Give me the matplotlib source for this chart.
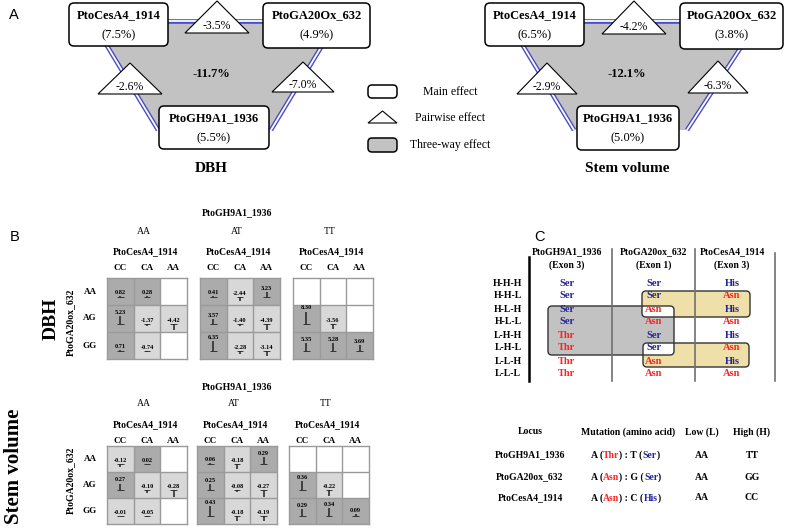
import matplotlib.pyplot as plt
import numpy as np
from matplotlib.patches import FancyBboxPatch, Polygon
from matplotlib.colors import ListedColormap

plt.rcParams['font.family'] = ['Liberation Serif', 'DejaVu Serif']

W, H = 788, 528

# ---------------- data ----------------
# panel A: effects (%) for each trait
genes_a = ['PtoCesA4_1914', 'PtoGA20Ox_632', 'PtoGH9A1_1936']
main_dbh = [7.5, 4.9, 5.5]
main_sv = [6.5, 3.8, 5.0]
# pairwise: CesA4xGA20Ox (top), CesA4xGH9A1 (left), GA20OxxGH9A1 (right)
pair_dbh = [-3.5, -2.6, -7.0]
pair_sv = [-4.2, -2.9, -6.3]
three_dbh = -11.7
three_sv = -12.1
legend_labels = ['Main effect', 'Pairwise effect', 'Three-way effect']

# panel B: genotype combination effects (rows PtoGA20ox_632, cols PtoCesA4_1914)
gh9_geno = ['AA', 'AT', 'TT']
cesa_geno = ['CC', 'CA', 'AA']
ga20_geno = ['AA', 'AG', 'GG']
nan = np.nan
dbh_vals = [
    [[0.82, 0.28, nan], [5.23, -1.37, -4.42], [0.71, -0.74, nan]],
    [[0.41, -2.44, 3.23], [3.57, -1.40, -4.39], [6.35, -2.28, -3.14]],
    [[nan, nan, nan], [8.30, -3.56, nan], [5.35, 5.28, 3.69]],
]
sv_vals = [
    [[-0.12, 0.02, nan], [0.27, -0.10, -0.28], [-0.01, -0.05, nan]],
    [[0.06, -0.18, 0.29], [0.25, -0.08, -0.27], [0.43, -0.18, -0.19]],
    [[nan, nan, nan], [0.36, -0.22, nan], [0.29, 0.34, 0.09]],
]

# panel C: haplotypes and amino acids
haplotypes = ['H-H-H', 'H-H-L', 'H-L-H', 'H-L-L', 'L-H-H', 'L-H-L', 'L-L-H', 'L-L-L']
loci = ['PtoGH9A1_1936', 'PtoGA20ox_632', 'PtoCesA4_1914']
exons = ['(Exon 3)', '(Exon 1)', '(Exon 3)']
aa_high = ['Ser', 'Ser', 'His']
aa_low = ['Thr', 'Asn', 'Asn']
base_low = ['A', 'A', 'A']
base_high = ['T', 'G', 'C']
geno_low = ['AA', 'AA', 'AA']
geno_high = ['TT', 'GG', 'CC']

BLUE = '#23239a'
RED = '#ff2222'
GRAY = '#c2c2c2'
TAN = '#efe0a9'
LINEBLUE = '#4a4ac8'

fig = plt.figure(figsize=(7.88, 5.28), dpi=100)
ax = fig.add_axes([0, 0, 1, 1])
ax.set_xlim(0, W)
ax.set_ylim(H, 0)
ax.axis('off')

sans = ['Liberation Sans', 'DejaVu Sans']
ax.text(14, 15, 'A', fontsize=10.5, family=sans, ha='center', va='center')
ax.text(15, 237, 'B', fontsize=10.5, family=sans, ha='center', va='center')
ax.text(540, 237, 'C', fontsize=10.5, family=sans, ha='center', va='center')


def rbox(x0, y0, x1, y1, fc='white', ec='black', lw=1.1, r=5, z=4):
    p = FancyBboxPatch((x0, y0), x1 - x0, y1 - y0,
                       boxstyle=f'round,pad=0,rounding_size={r}',
                       fc=fc, ec=ec, lw=lw, zorder=z)
    ax.add_patch(p)


def tri(cx, apex_y, base_y, hw, label):
    ax.add_patch(Polygon([(cx, apex_y), (cx - hw, base_y), (cx + hw, base_y)],
                         closed=True, fc='white', ec='black', lw=0.8, zorder=5))
    ax.text(cx, base_y - 7, label, ha='center', va='center', fontsize=8.5, zorder=6)


def effect_diagram(boxes, quad, tris, mains, pairs, three, title, tx):
    # gray three-way area with double blue edges
    ax.add_patch(Polygon(quad, closed=True, fc=GRAY, ec='none', zorder=1))
    for a, b in [(0, 1), (1, 2), (3, 0)]:
        xs = [quad[a][0], quad[b][0]]
        ys = [quad[a][1], quad[b][1]]
        ax.plot(xs, ys, color=LINEBLUE, lw=3.3, zorder=2, solid_capstyle='butt')
        ax.plot(xs, ys, color='white', lw=1.3, zorder=3, solid_capstyle='butt')
    for (x0, y0, x1, y1), g, m in zip(boxes, genes_a, mains):
        rbox(x0, y0, x1, y1)
        ax.text((x0 + x1) / 2, y0 + 12, g, ha='center', va='center',
                fontsize=9, fontweight='bold', zorder=6)
        ax.text((x0 + x1) / 2, y0 + 32, f'({m:.1f}%)', ha='center', va='center',
                fontsize=9, zorder=6)
    for (cx, ay, by, hw), p in zip(tris, pairs):
        tri(cx, ay, by, hw, f'{p:.1f}%')
    ax.text(tx, 74, f'{three:.1f}%', ha='center', va='center', fontsize=9,
            fontweight='bold', zorder=6)
    ax.text(tx, 169, title, ha='center', va='center', fontsize=11,
            fontweight='bold')


effect_diagram(
    boxes=[(69, 3, 168, 46), (263, 3, 370, 48), (159, 106, 269, 149)],
    quad=[(92, 21), (337, 21), (271, 130), (158, 130)],
    tris=[(217, 1, 33, 32), (130, 63, 94, 32), (303, 62, 92, 31)],
    mains=main_dbh, pairs=pair_dbh, three=three_dbh, title='DBH', tx=211)

effect_diagram(
    boxes=[(485, 3, 584, 46), (680, 3, 783, 49), (577, 106, 679, 150)],
    quad=[(508, 21), (758, 21), (687, 130), (574, 130)],
    tris=[(634, 1, 34, 32), (547, 63, 94, 30), (718, 61, 93, 30)],
    mains=main_sv, pairs=pair_sv, three=three_sv, title='Stem volume', tx=627)

# legend of panel A
rbox(368, 85, 397, 98, r=4)
ax.add_patch(Polygon([(382.5, 111), (368, 123), (397, 123)], closed=True,
                     fc='white', ec='black', lw=0.8, zorder=5))
rbox(368, 138, 397, 152, fc=GRAY, r=4)
for y, lab in zip([92, 118, 145], legend_labels):
    ax.text(450, y, lab, ha='center', va='center', fontsize=8.5)


# ---------------- panel B ----------------
def draw_grid(x0, y0, x1, y1, vals, k):
    axh = fig.add_axes([x0 / W, 1 - y1 / H, (x1 - x0) / W, (y1 - y0) / H])
    v = np.array(vals, dtype=float)
    sign = np.ma.masked_invalid(np.where(np.isnan(v), np.nan, (v > 0).astype(float)))
    cmap = ListedColormap(['#d8d8d8', '#ababab'])
    cmap.set_bad('white')
    axh.pcolormesh(sign, cmap=cmap, vmin=0, vmax=1)
    axh.set_xlim(0, 3)
    axh.set_ylim(3, 0)
    axh.set_xticks([])
    axh.set_yticks([])
    for s in axh.spines.values():
        s.set_color('#9a9a9a')
        s.set_linewidth(1)
    for t in [1, 2]:
        axh.axhline(t, color='#9a9a9a', lw=1)
        axh.axvline(t, color='#9a9a9a', lw=1)
    for i in range(3):
        for j in range(3):
            val = v[i, j]
            if np.isnan(val):
                continue
            base = i + 0.7
            top = base - val * k
            axh.hlines(base, j + 0.38, j + 0.62, color='#222222', lw=0.6)
            axh.vlines(j + 0.5, base, top, color='#222222', lw=1.1)
            axh.text(j + 0.5, min(base, top) - 0.04, f'{val:.2f}', ha='center',
                     va='bottom', fontsize=4.6, fontweight='bold')


def panel_b(vals, xs, y0, y1, k, ys_head, title, title_xy, title_fs, lab_y):
    ax.text(237, ys_head[0], 'PtoGH9A1_1936', ha='center', va='center',
            fontsize=7, fontweight='bold')
    for gi, x in enumerate(xs):
        x1 = x + 80
        cx = (x + x1) / 2
        ax.text(cx - 3, ys_head[1], gh9_geno[gi], ha='center', va='center', fontsize=7)
        ax.text(cx - 2, ys_head[2], 'PtoCesA4_1914', ha='center', va='center',
                fontsize=7, fontweight='bold')
        for j, g in enumerate(cesa_geno):
            ax.text(x + (j + 0.5) * 80 / 3, ys_head[3], g, ha='center',
                    va='bottom', fontsize=6.5, fontweight='bold')
        draw_grid(x, y0, x1, y1, vals[gi], k)
    for i, g in enumerate(ga20_geno):
        ax.text(90, y0 + (i + 0.5) * (y1 - y0) / 3, g, ha='center', va='center',
                fontsize=6.5, fontweight='bold')
    ax.text(70, lab_y, 'PtoGA20ox_632', rotation=90, ha='center', va='center',
            fontsize=7, fontweight='bold')
    ax.text(title_xy[0], title_xy[1], title, rotation=90, ha='center',
            va='center', fontsize=title_fs, fontweight='bold')


panel_b(dbh_vals, [107, 200, 293], 278, 359, 0.055, [213, 232, 252, 272],
        'DBH', (51, 319), 14, 322)
panel_b(sv_vals, [107, 197, 289], 446, 524, 0.95, [387, 403, 425, 445],
        'Stem volume', (14, 466), 15, 480)

# ---------------- panel C ----------------
col_x = [567, 654, 732]
row_y = [283 + 13 * i for i in range(len(haplotypes))]

for cx, locus, ex in zip(col_x, loci, exons):
    ax.text(cx, 252, locus, ha='center', va='center', fontsize=7, fontweight='bold')
    ax.text(cx, 265, ex, ha='center', va='center', fontsize=7, fontweight='bold')

# highlighted haplotype groups
gray_box = (548, 306, 674, 355)
tan_boxes = [(642, 291, 750, 317), (643, 343, 749, 367)]
rbox(*gray_box, fc=GRAY, ec='none', z=2, r=4)
for b in tan_boxes:
    rbox(*b, fc=TAN, ec='none', z=2, r=4)
    ix0, iy0 = max(b[0], gray_box[0]), max(b[1], gray_box[1])
    ix1, iy1 = min(b[2], gray_box[2]), min(b[3], gray_box[3])
    rbox(ix0, iy0, ix1, iy1, fc='white', ec='none', z=3, r=3)
rbox(*gray_box, fc='none', ec='#333333', lw=1.0, z=4, r=4)
for b in tan_boxes:
    rbox(*b, fc='none', ec='#333333', lw=1.0, z=4, r=4)

ax.plot([529, 529], [257, 381], color='black', lw=1.8, zorder=5)
for x, yt in zip([612, 695, 775], [249, 249, 253]):
    ax.plot([x, x], [yt, 381], color='#707070', lw=1.2, zorder=5)

for y, hap in zip(row_y, haplotypes):
    ax.text(508, y, hap, ha='center', va='center', fontsize=7, fontweight='bold')
    for k, (cx, state) in enumerate(zip(col_x, hap.split('-'))):
        aa = aa_high[k] if state == 'H' else aa_low[k]
        col = BLUE if state == 'H' else RED
        ax.text(cx, y, aa, ha='center', va='center', fontsize=7.5,
                fontweight='bold', color=col, zorder=6)

# mutation table
head_x = [530, 628, 702, 752]
for x, h in zip(head_x, ['Locus', 'Mutation (amino acid)', 'Low (L)', 'High (H)']):
    ax.text(x, 432, h, ha='center', va='center', fontsize=7, fontweight='bold')

for r, y in enumerate([455, 477, 498]):
    ax.text(530, y, loci[r], ha='center', va='center', fontsize=7, fontweight='bold')
    parts = [(f'{base_low[r]} (', 'black'), (aa_low[r], RED),
             (f') : {base_high[r]} (', 'black'), (aa_high[r], BLUE), (')', 'black')]
    t = ax.text(591, y, parts[0][0], ha='left', va='center', fontsize=7,
                fontweight='bold', color=parts[0][1])
    for s, c in parts[1:]:
        t = ax.annotate(s, xy=(1, 0), xycoords=t, ha='left', va='bottom',
                        fontsize=7, fontweight='bold', color=c)
    ax.text(702, y, geno_low[r], ha='center', va='center', fontsize=7, fontweight='bold')
    ax.text(752, y, geno_high[r], ha='center', va='center', fontsize=7, fontweight='bold')

fig.savefig('out.png', dpi=100)
